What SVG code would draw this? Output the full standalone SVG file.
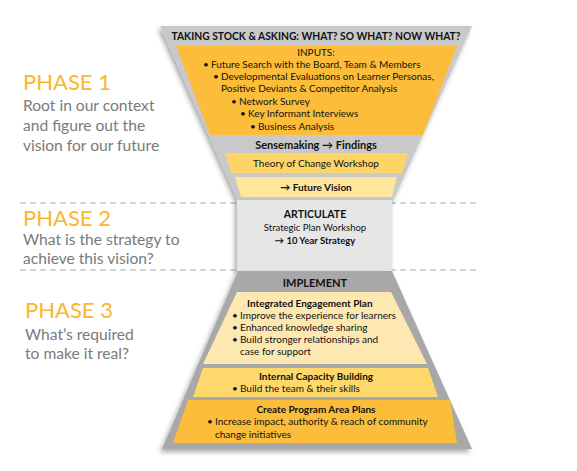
<svg xmlns="http://www.w3.org/2000/svg" width="577" height="471" viewBox="0 0 577 471">
<defs>
<filter id="sh" x="-10%" y="-10%" width="120%" height="125%">
<feDropShadow dx="-2" dy="3" stdDeviation="2.5" flood-color="#000" flood-opacity="0.35"/>
</filter>
</defs>
<style>
text{font-family:Lato,"Open Sans","Liberation Sans",sans-serif;fill:#111}
.t{font-size:10px}
.b{font-weight:bold}
.h{font-size:11px;font-weight:bold}
.c{text-anchor:middle}
.ph{font-size:22px;fill:#fbb62c}
.d{font-size:15.6px;fill:#7a7a7a}
.div{stroke:#c8c8c8;stroke-width:1.3;stroke-dasharray:6 4;fill:none}
</style>
<rect width="577" height="471" fill="#fff"/>

<g id="dividers">
<line class="div" x1="20" y1="203" x2="476" y2="203"/>
<line class="div" x1="20" y1="270" x2="476" y2="270"/>
</g>

<g id="phase1">
<text class="ph" x="23" y="90">PHASE 1</text>
<text class="d" x="23" y="111">Root in our context</text>
<text class="d" x="23" y="131">and figure out the</text>
<text class="d" x="23" y="151">vision for our future</text>
</g>
<g id="phase2">
<text class="ph" x="23" y="226">PHASE 2</text>
<text class="d" x="23" y="245">What is the strategy to</text>
<text class="d" x="23" y="264">achieve this vision?</text>
</g>
<g id="phase3">
<text class="ph" x="25" y="318">PHASE 3</text>
<text class="d" x="25" y="340">What’s required</text>
<text class="d" x="25" y="359">to make it real?</text>
</g>

<g id="funnel">
<polygon points="160,26 472,26 393,201 238,201" fill="#c9c9c9" filter="url(#sh)"/>
<text class="h c" x="316" y="40" textLength="289" lengthAdjust="spacingAndGlyphs">TAKING STOCK &amp; ASKING: WHAT? SO WHAT? NOW WHAT?</text>
</g>

<g id="inputs">
<polygon points="176,46 457,46 423,135 210,135" fill="#fbbd3a"/>
<text class="t c" x="316" y="56">INPUTS:</text>
<text class="t" x="203" y="68">•</text><text class="t" x="211" y="68">Future Search with the Board, Team &amp; Members</text>
<text class="t" x="213" y="80">•</text><text class="t" x="221" y="80">Developmental Evaluations on Learner Personas,</text>
<text class="t" x="221" y="92">Positive Deviants &amp; Competitor Analysis</text>
<text class="t" x="231" y="105">•</text><text class="t" x="239" y="105">Network Survey</text>
<text class="t" x="240" y="117">•</text><text class="t" x="248" y="117">Key Informant Interviews</text>
<text class="t" x="250" y="130">•</text><text class="t" x="258" y="130">Business Analysis</text>
</g>

<g id="sensemaking">
<text class="h c" x="316" y="149">Sensemaking → Findings</text>
</g>

<g id="theory">
<polygon points="225,153 408,153 402,173 231,173" fill="#fdd567"/>
<text class="t c" x="316" y="167">Theory of Change Workshop</text>
</g>

<g id="vision">
<polygon points="235,177 397,177 392,197 241,197" fill="#fee69c"/>
<text class="t b c" x="316" y="191">→ Future Vision</text>
</g>

<g id="articulate">
<rect x="237" y="200" width="155" height="71" fill="#e6e6e6" filter="url(#sh)"/>
<text class="t b c" x="315" y="218" style="font-size:10.5px">ARTICULATE</text>
<text class="t c" x="315" y="231" style="font-size:9.5px">Strategic Plan Workshop</text>
<text class="t b c" x="315" y="244" style="font-size:9.5px">→ 10 Year Strategy</text>
</g>

<g id="implement">
<polygon points="238,271 392,271 472,449 162,449" fill="#a8a8a8" filter="url(#sh)"/>
<text class="h c" x="315" y="287">IMPLEMENT</text>
</g>

<g id="engagement">
<polygon points="237,292 391,292 427,364 203,364" fill="#fee8b2"/>
<text class="t b" x="247" y="307">Integrated Engagement Plan</text>
<text class="t" x="232" y="319">•</text><text class="t" x="240" y="319">Improve the experience for learners</text>
<text class="t" x="232" y="331">•</text><text class="t" x="240" y="331">Enhanced knowledge sharing</text>
<text class="t" x="232" y="343">•</text><text class="t" x="240" y="343">Build stronger relationships and</text>
<text class="t" x="240" y="355">case for support</text>
</g>

<g id="capacity">
<polygon points="203,368 428,368 438,397 193,397" fill="#fed86b"/>
<text class="t b c" x="316" y="380">Internal Capacity Building</text>
<text class="t" x="232" y="392">•</text><text class="t" x="240" y="392">Build the team &amp; their skills</text>
</g>

<g id="program">
<polygon points="188,400 450,400 457,443 173,443" fill="#fbbd3a"/>
<text class="t b c" x="316" y="413">Create Program Area Plans</text>
<text class="t" x="207" y="425">•</text><text class="t" x="215" y="425">Increase impact, authority &amp; reach of community</text>
<text class="t" x="215" y="438">change initiatives</text>
</g>
</svg>
